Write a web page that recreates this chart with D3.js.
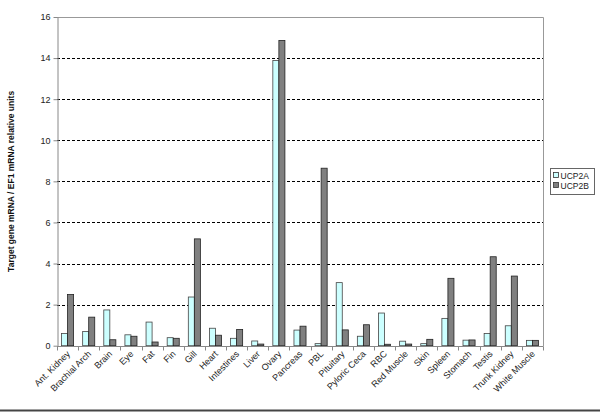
<!DOCTYPE html>
<html><head><meta charset="utf-8">
<script src="https://cdn.jsdelivr.net/npm/d3@7"></script>
<style>body{margin:0;background:#fff}svg{display:block}text{font-family:Arial,"Liberation Sans",sans-serif}</style>
</head><body>
<script>
const categories = ["Ant. Kidney","Brachial Arch","Brain","Eye","Fat","Fin","Gill","Heart","Intestines","Liver","Ovary","Pancreas","PBL","Pituitary","Pyloric Ceca","RBC","Red Muscle","Skin","Spleen","Stomach","Testis","Trunk Kidney","White Muscle"];
const ucp2a = [0.59,0.69,1.74,0.53,1.15,0.39,2.37,0.85,0.36,0.23,13.88,0.76,0.10,3.07,0.46,1.59,0.22,0.10,1.33,0.27,0.59,0.97,0.26];
const ucp2b = [2.49,1.39,0.29,0.46,0.18,0.36,5.2,0.51,0.79,0.08,14.86,0.95,8.64,0.77,1.02,0.07,0.08,0.31,3.28,0.28,4.33,3.39,0.26];
const seriesNames = ["UCP2A","UCP2B"];
const yTicks = [0,2,4,6,8,10,12,14,16];

const W=600,H=412;
const L=57,R=543,T=17,B=345.7;
const svg=d3.select("body").append("svg").attr("width",W).attr("height",H);

const x=d3.scaleBand().domain(categories).range([L,R]).paddingInner(0).paddingOuter(0);
const y=d3.scaleLinear().domain([0,16]).range([B,T]);
const bw=x.bandwidth()/3.5;
const off=bw*0.75;

// gridlines
svg.append("g").selectAll("line").data(yTicks.filter(d=>d>0&&d<16)).join("line")
 .attr("x1",L).attr("x2",R).attr("y1",d=>Math.round(y(d))+0.5).attr("y2",d=>Math.round(y(d))+0.5)
 .attr("stroke","#000").attr("stroke-width",1).attr("stroke-dasharray","3,2");

// plot border top/right
svg.append("path").attr("d",`M${L},${Math.round(T)+0.5}H${R+0.5}V${Math.round(B)}`)
 .attr("fill","none").attr("stroke","#999").attr("stroke-width",1);

// bars
const data=categories.map((c,i)=>({c,a:ucp2a[i],b:ucp2b[i]}));
const g=svg.append("g");
g.selectAll("rect.a").data(data).join("rect").attr("class","a")
 .attr("x",d=>x(d.c)+off).attr("width",bw)
 .attr("y",d=>y(d.a)).attr("height",d=>y(0)-y(d.a))
 .attr("fill","#ccffff").attr("stroke","#444").attr("stroke-width",0.8);
g.selectAll("rect.b").data(data).join("rect").attr("class","b")
 .attr("x",d=>x(d.c)+off+bw).attr("width",bw)
 .attr("y",d=>y(d.b)).attr("height",d=>y(0)-y(d.b))
 .attr("fill","#808080").attr("stroke","#222").attr("stroke-width",0.8);

// y axis
const ya=svg.append("g").attr("transform",`translate(${L+0.5},0)`)
 .call(d3.axisLeft(y).tickValues(yTicks).tickSize(4).tickSizeOuter(0).tickPadding(3));
ya.select(".domain").attr("stroke","#888");
ya.selectAll(".tick line").attr("stroke","#888");
ya.selectAll("text").attr("font-size",9).attr("fill","#222");

// x axis
const xa=svg.append("g").attr("transform",`translate(0,${Math.round(B)+0.5})`);
xa.append("line").attr("x1",L).attr("x2",R+0.5).attr("stroke","#888");
xa.selectAll("line.t").data(categories.concat(["__end"])).join("line").attr("class","t")
 .attr("x1",(d,i)=>Math.round(L+i*x.bandwidth())+0.5).attr("x2",(d,i)=>Math.round(L+i*x.bandwidth())+0.5)
 .attr("y1",0).attr("y2",4).attr("stroke","#888");
xa.selectAll("text").data(categories).join("text")
 .attr("transform",d=>`translate(${x(d)+x.bandwidth()/2+3},8) rotate(-45)`)
 .attr("text-anchor","end").attr("font-size",9).attr("fill","#222").text(d=>d);

// y title
svg.append("text").attr("transform",`translate(14,${(T+B)/2}) rotate(-90)`)
 .attr("text-anchor","middle").attr("font-size",8.5).attr("font-weight","bold").attr("fill","#111")
 .text("Target gene mRNA / EF1 mRNA relative units");

// legend
const lg=svg.append("g").attr("transform","translate(550.5,168.5)");
lg.append("rect").attr("width",44).attr("height",26).attr("fill","#fff").attr("stroke","#666");
const colors=["#ccffff","#808080"];
seriesNames.forEach((s,i)=>{
  lg.append("rect").attr("x",3).attr("y",4+i*10).attr("width",5).attr("height",5)
   .attr("fill",colors[i]).attr("stroke","#333").attr("stroke-width",0.8);
  lg.append("text").attr("x",10).attr("y",10+i*10).attr("font-size",8.5).attr("fill","#222").text(s);
});

// bottom frame line
svg.append("line").attr("x1",0).attr("x2",W).attr("y1",410.5).attr("y2",410.5).attr("stroke","#444").attr("stroke-width",2);
</script>
</body></html>
